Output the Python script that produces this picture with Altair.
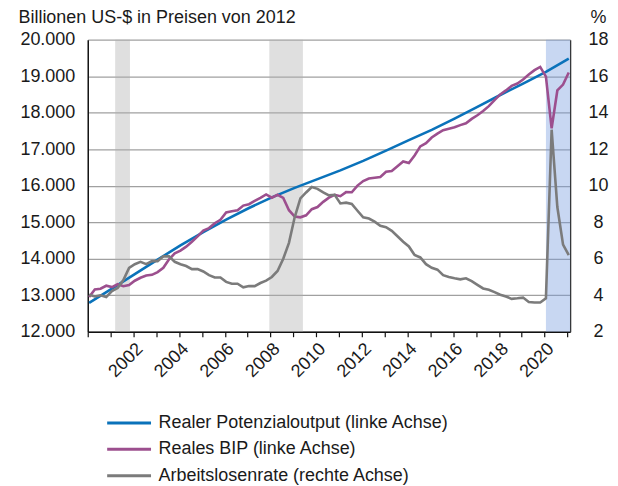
import altair as alt
import pandas as pd

# ---------------- data ----------------
series_names = [
    "Realer Potenzialoutput (linke Achse)",
    "Reales BIP (linke Achse)",
    "Arbeitslosenrate (rechte Achse)",
]
series_colors = ["#0a72ba", "#9c4f8e", "#7b7b7b"]

# Real GDP, quarterly 2000Q1 - 2021Q1 (billion US-$, prices of 2012)
gdp = [
    12950, 13160, 13178, 13260,
    13222, 13300, 13245, 13280,
    13397, 13478, 13539, 13559,
    13634, 13751, 13985, 14145,
    14221, 14330, 14465, 14610,
    14771, 14839, 14973, 15067,
    15267, 15302, 15327, 15456,
    15494, 15582, 15666, 15762,
    15671, 15752, 15667, 15328,
    15156, 15134, 15189, 15356,
    15415, 15557, 15672, 15751,
    15712, 15825, 15821, 16004,
    16129, 16199, 16220, 16240,
    16383, 16404, 16532, 16664,
    16620, 16827, 17077, 17165,
    17319, 17428, 17520, 17563,
    17600, 17660, 17710, 17830,
    17930, 18045, 18180, 18345,
    18500, 18610, 18735, 18800,
    18910, 19045, 19165, 19254,
    18990, 17570, 18610, 18770,
    19100,
]

# Unemployment rate, quarterly 2000Q1 - 2021Q1 (%)
unemployment = [
    4.03, 3.93, 4.00, 3.90,
    4.23, 4.40, 4.83, 5.50,
    5.70, 5.83, 5.70, 5.87,
    5.87, 6.13, 6.13, 5.83,
    5.70, 5.60, 5.43, 5.43,
    5.30, 5.10, 4.97, 4.97,
    4.73, 4.63, 4.63, 4.43,
    4.50, 4.50, 4.67, 4.80,
    5.00, 5.33, 6.00, 6.87,
    8.27, 9.30, 9.63, 9.93,
    9.83, 9.63, 9.47, 9.50,
    9.03, 9.07, 9.00, 8.63,
    8.27, 8.20, 8.03, 7.80,
    7.73, 7.53, 7.23, 6.93,
    6.67, 6.20, 6.07, 5.70,
    5.50, 5.40, 5.10, 5.00,
    4.93, 4.87, 4.93, 4.77,
    4.57, 4.37, 4.30, 4.17,
    4.03, 3.93, 3.80, 3.83,
    3.87, 3.63, 3.60, 3.60,
    3.83, 13.07, 8.83, 6.77,
    6.20,
]

# Real potential output (annual readings, start of each year)
potential_years = [2000, 2001, 2002, 2003, 2004, 2005, 2006, 2007, 2008, 2009, 2010,
                   2011, 2012, 2013, 2014, 2015, 2016, 2017, 2018, 2019, 2020, 2021]
potential = [12790, 13180, 13580, 13975, 14365, 14730, 15070, 15390, 15680, 15940, 16180,
             16420, 16680, 16960, 17250, 17530, 17840, 18160, 18485, 18795, 19120, 19480]

# Shaded periods
shade_start = [2001.2, 2007.95, 2020.06]
shade_end = [2001.85, 2009.42, 2021.12]
shade_kind = ["Rezession", "Rezession", "Pandemie"]

first_year = 2000
quarter_x = [first_year + i / 4 + 0.06 for i in range(len(gdp))]
potential_x = [y + 0.06 for y in potential_years]

# ---------------- tables ----------------
left_df = pd.concat([
    pd.DataFrame({"x": potential_x, "value": potential, "series": series_names[0]}),
    pd.DataFrame({"x": quarter_x, "value": gdp, "series": series_names[1]}),
])
right_df = pd.DataFrame({"x": quarter_x, "value": unemployment, "series": series_names[2]})
shade_df = pd.DataFrame({"start": shade_start, "end": shade_end, "kind": shade_kind})

FONT = "Liberation Sans"
TXT = "#1a1a1a"
W, H = 484, 293

xscale = alt.Scale(domain=[2000, 2021.12], nice=False, zero=False)
xaxis = alt.Axis(
    values=list(range(2000, 2022)),
    labelExpr="(datum.value % 2 == 0 && datum.value > 2000) ? format(datum.value, 'd') : ''",
    labelAngle=-45, labelFontSize=18, labelColor=TXT, labelFont=FONT,
    labelPadding=3, tickSize=5, tickColor="#111", tickWidth=1.2,
    domainColor="#111", domainWidth=1.5, grid=False, title=None,
)

color_scale = alt.Scale(domain=series_names, range=series_colors)
color_legend = alt.Legend(
    title=None, orient="none", legendX=30, legendY=373,
    symbolType="M-2.2,0H2.2", symbolSize=400, symbolStrokeWidth=3,
    labelFontSize=18, labelFont=FONT, labelColor=TXT, labelOffset=18,
    labelLimit=600, rowPadding=5.5, padding=0,
)

shade = alt.Chart(shade_df).mark_rect(opacity=0.4).encode(
    x=alt.X("start:Q", scale=xscale, axis=xaxis),
    x2="end:Q",
    fill=alt.Fill("kind:N", scale=alt.Scale(domain=["Rezession", "Pandemie"],
                                             range=["#b0b0b0", "#769bde"]), legend=None),
)

left_lines = alt.Chart(left_df).mark_line(strokeWidth=2.6).encode(
    x=alt.X("x:Q", scale=xscale, axis=xaxis),
    y=alt.Y("value:Q", scale=alt.Scale(domain=[12000, 20000], nice=False, zero=False),
            axis=alt.Axis(
                orient="left", values=list(range(12000, 20001, 1000)),
                labelExpr="replace(format(datum.value, ','), ',', '.')",
                labelFontSize=18, labelFont=FONT, labelColor=TXT, labelPadding=13,
                ticks=False, domainColor="#111", domainWidth=1.5,
                grid=True, gridColor="#a0a0a0", gridWidth=1.3,
                title="Billionen US-$ in Preisen von 2012", titleAngle=0,
                titleX=-70, titleY=-17, titleAlign="left", titleBaseline="alphabetic",
                titleFontSize=18, titleFont=FONT, titleFontWeight="normal", titleColor=TXT,
            )),
    color=alt.Color("series:N", scale=color_scale, legend=color_legend),
)

left = alt.layer(shade, left_lines)

right = alt.Chart(right_df).mark_line(strokeWidth=2.6).encode(
    x=alt.X("x:Q", scale=xscale, axis=xaxis),
    y=alt.Y("value:Q", scale=alt.Scale(domain=[2, 18], nice=False, zero=False),
            axis=alt.Axis(
                orient="right", values=list(range(2, 19, 2)),
                labelFontSize=18, labelFont=FONT, labelColor=TXT,
                labelAlign="center", labelPadding=28,
                ticks=False, domainColor="#333", domainWidth=1.3, grid=False,
                title="%", titleAngle=0, titleX=28, titleY=-17, titleAlign="center",
                titleBaseline="alphabetic", titleFontSize=18, titleFont=FONT,
                titleFontWeight="normal", titleColor=TXT,
            )),
    color=alt.Color("series:N", scale=color_scale, legend=color_legend),
)

chart = alt.layer(left, right).resolve_scale(y="independent").properties(
    width=W, height=H,
    autosize=alt.AutoSizeParams(type="none"),
    padding={"left": 80, "top": 31, "right": 40, "bottom": 156},
    background="white",
).configure_view(stroke=None)

chart.save("out.html", embed_options={"renderer": "svg", "actions": False})
